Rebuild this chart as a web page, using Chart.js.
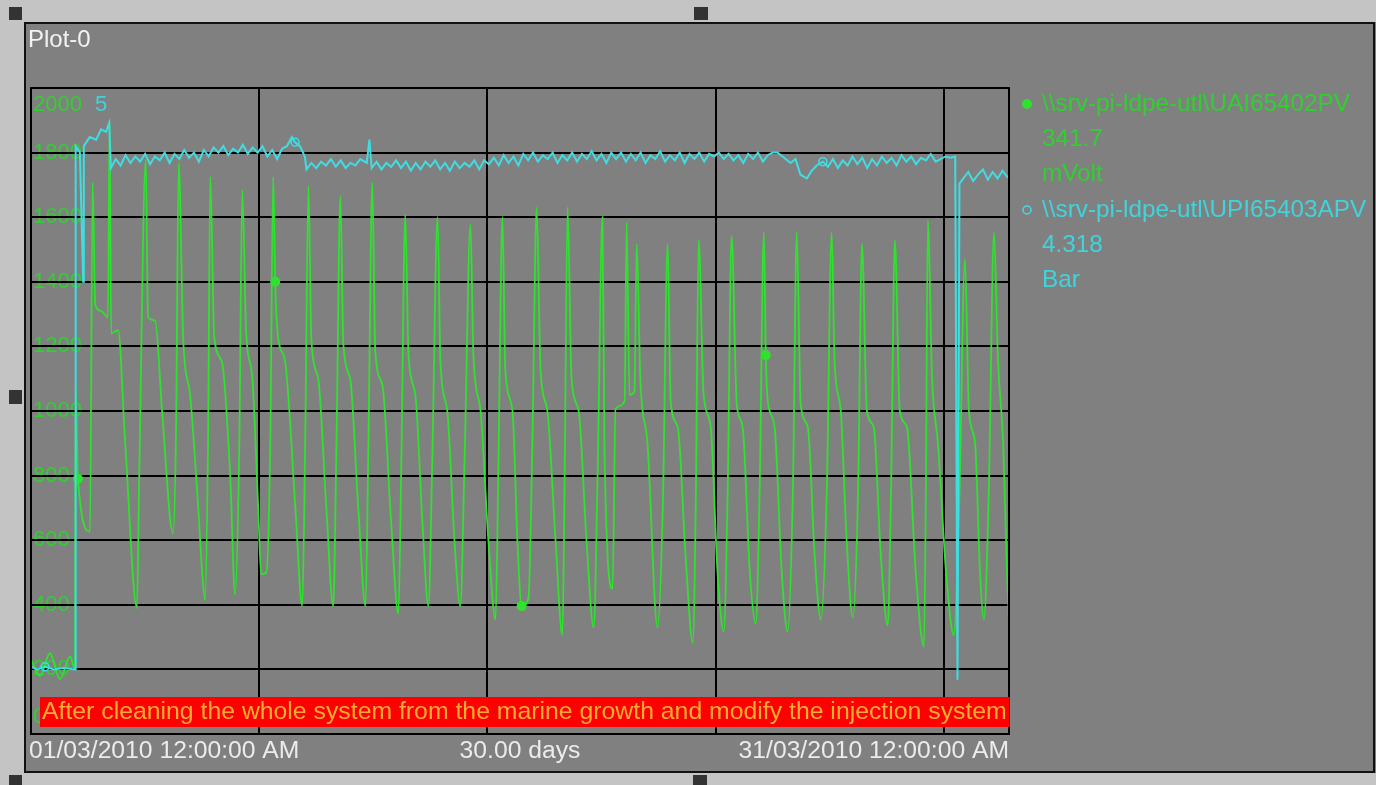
<!DOCTYPE html>
<html>
<head>
<meta charset="utf-8">
<script src="https://cdn.jsdelivr.net/npm/chart.js@4.4.1/dist/chart.umd.min.js"></script>
<style>
  html, body { margin: 0; padding: 0; background: #c4c4c4; }
  #wrap { width: 1376px; height: 785px; position: relative; }
</style>
</head>
<body>
<div id="wrap"><canvas id="plot" width="1376" height="785"></canvas></div>
<script>
// time in days after 01/03/2010 00:00
const greenDays = [0, 0.28, 0.58, 0.89, 1.20, 1.35, 1.37, 1.44, 1.81, 1.89,
  1.97, 2.15, 2.36, 2.41, 2.46, 2.67, 2.89, 3.25, 3.32, 3.52,
  3.59, 3.81, 4.02, 4.36, 4.45, 4.53, 4.67, 4.88, 5.13, 5.25,
  5.34, 5.43, 5.50, 5.62, 5.86, 6.11, 6.26, 6.39, 6.48, 6.60,
  6.79, 6.97, 7.06, 7.22, 7.34, 7.43, 7.49, 7.58, 7.80, 8.11,
  8.32, 8.41, 8.51, 8.60, 8.81, 9.06, 9.27, 9.37, 9.49, 9.58,
  9.79, 10.04, 10.26, 10.35, 10.47, 10.56, 10.78, 11.05, 11.27, 11.36,
  11.48, 11.58, 11.79, 12.01, 12.19, 12.31, 12.47, 12.56, 12.77, 12.99,
  13.17, 13.30, 13.48, 13.57, 13.79, 14.03, 14.25, 14.34, 14.46, 14.55,
  14.77, 14.92, 15.05, 15.26, 15.38, 15.51, 15.63, 15.84, 16.09, 16.30,
  16.37, 16.46, 16.58, 16.80, 17.04, 17.26, 17.38, 17.53, 17.59, 17.84,
  17.93, 18.21, 18.27, 18.36, 18.51, 18.58, 18.69, 18.91, 19.22, 19.38,
  19.53, 19.62, 19.84, 20.08, 20.30, 20.39, 20.48, 20.63, 20.85, 21.06,
  21.25, 21.37, 21.49, 21.65, 21.83, 22.05, 22.23, 22.35, 22.48, 22.54,
  22.60, 22.81, 23.03, 23.21, 23.37, 23.49, 23.61, 23.83, 24.04, 24.23,
  24.41, 24.56, 24.65, 24.84, 25.02, 25.21, 25.37, 25.49, 25.64, 25.85,
  26.07, 26.28, 26.38, 26.50, 26.65, 26.87, 27.14, 27.39, 27.45, 27.51,
  27.64, 27.82, 28.07, 28.31, 28.47, 28.65, 28.77, 28.96, 29.11, 29.23,
  29.38, 29.54, 29.66, 29.82, 29.94, 30];
const greenVals = [230, 180, 250, 170, 240, 200, 1080, 790, 627, 1707,
  1330, 1310, 1290, 1890, 1240, 1250, 900, 390, 800, 1779,
  1290, 1280, 1000, 620, 950, 1767, 1220, 1050, 700, 501,
  414, 900, 1725, 1230, 1150, 800, 431, 900, 1684, 1244,
  1100, 700, 495, 500, 900, 1725, 1400, 1227, 1150, 700,
  396, 900, 1696, 1220, 1100, 700, 396, 900, 1666, 1209,
  1100, 700, 396, 900, 1707, 1185, 1080, 650, 372, 850,
  1607, 1173, 1050, 650, 396, 850, 1601, 1150, 1000, 600,
  396, 850, 1577, 1173, 1000, 600, 354, 850, 1601, 1126,
  1000, 600, 396, 420, 900, 1630, 1126, 1000, 600, 306,
  800, 1630, 1102, 1000, 600, 330, 800, 1601, 888, 450,
  1007, 1030, 1583, 1050, 1060, 1517, 1100, 900, 330, 700,
  1517, 1031, 950, 550, 283, 700, 1529, 1054, 950, 500,
  318, 750, 1541, 1019, 950, 500, 342, 750, 1553, 1173,
  1031, 950, 500, 318, 750, 1553, 1019, 950, 550, 354,
  750, 1553, 1150, 1000, 600, 360, 750, 1517, 1000, 950,
  550, 336, 750, 1529, 1000, 950, 500, 271, 750, 1589,
  1102, 900, 500, 306, 700, 1470, 1000, 900, 500, 354,
  750, 1553, 1162, 900, 500, 342];

const cyanDays = [0, 0.2, 0.43, 0.7, 1.0, 1.35, 1.37, 1.5, 1.6, 1.62,
  1.8, 2.0, 2.15, 2.3, 2.4, 2.45, 2.6, 2.75, 2.9, 3.05,
  3.2, 3.35, 3.5, 3.65, 3.8, 3.95, 4.1, 4.25, 4.4, 4.55,
  4.7, 4.85, 5.0, 5.15, 5.3, 5.45, 5.6, 5.75, 5.9, 6.05,
  6.2, 6.35, 6.5, 6.65, 6.8, 6.95, 7.1, 7.25, 7.4, 7.55,
  7.7, 7.85, 8.0, 8.1, 8.25, 8.4, 8.45, 8.6, 8.75, 8.9,
  9.05, 9.2, 9.35, 9.5, 9.65, 9.8, 9.95, 10.1, 10.3, 10.38,
  10.45, 10.6, 10.75, 10.9, 11.05, 11.2, 11.35, 11.5, 11.65, 11.8,
  11.95, 12.1, 12.25, 12.4, 12.55, 12.7, 12.85, 13.0, 13.15, 13.3,
  13.45, 13.6, 13.75, 13.9, 14.05, 14.2, 14.35, 14.5, 14.65, 14.8,
  14.95, 15.1, 15.25, 15.4, 15.55, 15.7, 15.85, 16.0, 16.15, 16.3,
  16.45, 16.6, 16.75, 16.9, 17.05, 17.2, 17.35, 17.5, 17.65, 17.8,
  17.95, 18.1, 18.25, 18.4, 18.55, 18.7, 18.85, 19.0, 19.15, 19.3,
  19.45, 19.6, 19.75, 19.9, 20.05, 20.2, 20.35, 20.5, 20.65, 20.8,
  20.95, 21.1, 21.25, 21.4, 21.55, 21.7, 21.85, 22.0, 22.15, 22.3,
  22.45, 22.6, 22.75, 22.9, 23.1, 23.3, 23.45, 23.6, 23.8, 23.95,
  24.1, 24.29, 24.45, 24.6, 24.75, 24.9, 25.05, 25.2, 25.35, 25.5,
  25.65, 25.8, 25.95, 26.1, 26.25, 26.4, 26.55, 26.7, 26.85, 27.0,
  27.15, 27.3, 27.45, 27.6, 27.75, 27.9, 28.05, 28.2, 28.35, 28.42,
  28.48, 28.6, 28.75, 28.9, 29.05, 29.2, 29.35, 29.5, 29.65, 29.8,
  29.95, 30];
const cyanVals = [0.52, 0.5, 0.52, 0.5, 0.51, 0.5, 4.55, 4.5, 3.5, 4.55,
  4.62, 4.6, 4.68, 4.66, 4.73, 4.38, 4.45, 4.4, 4.48, 4.42,
  4.47, 4.43, 4.49, 4.41, 4.47, 4.44, 4.5, 4.42, 4.49, 4.45,
  4.52, 4.46, 4.5, 4.43, 4.52, 4.47, 4.54, 4.5, 4.55, 4.48,
  4.53, 4.5, 4.56, 4.49, 4.54, 4.5, 4.55, 4.47, 4.52, 4.45,
  4.53, 4.55, 4.62, 4.58, 4.55, 4.47, 4.37, 4.42, 4.38, 4.43,
  4.4, 4.45, 4.39, 4.44, 4.38, 4.42, 4.4, 4.45, 4.42, 4.6,
  4.38, 4.43, 4.37, 4.42, 4.39, 4.44, 4.38, 4.43, 4.36, 4.42,
  4.37, 4.43, 4.39, 4.44, 4.37, 4.42, 4.36, 4.43, 4.38, 4.42,
  4.39, 4.44, 4.37, 4.44, 4.41, 4.46, 4.4, 4.48, 4.42, 4.47,
  4.4, 4.49, 4.44, 4.5, 4.43, 4.48, 4.45, 4.5, 4.42, 4.48,
  4.44, 4.5, 4.43, 4.49, 4.45, 4.51, 4.44, 4.49, 4.42, 4.5,
  4.45, 4.5, 4.43, 4.49, 4.44, 4.5, 4.42, 4.48, 4.45, 4.51,
  4.43, 4.48, 4.44, 4.5, 4.42, 4.49, 4.45, 4.5, 4.43, 4.49,
  4.47, 4.5, 4.45, 4.49, 4.44, 4.48, 4.42, 4.49, 4.45, 4.5,
  4.43, 4.48, 4.5, 4.5, 4.46, 4.42, 4.45, 4.33, 4.3, 4.36,
  4.4, 4.43, 4.39, 4.45, 4.38, 4.44, 4.4, 4.47, 4.41, 4.46,
  4.38, 4.45, 4.4, 4.47, 4.42, 4.46, 4.4, 4.48, 4.43, 4.47,
  4.41, 4.46, 4.44, 4.49, 4.43, 4.45, 4.47, 4.46, 4.47, 0.42,
  4.26, 4.3, 4.35, 4.28, 4.33, 4.37, 4.29, 4.35, 4.3, 4.36,
  4.31, 4.32];

// points that carry the trend markers
const greenMarkDays = [1.44, 7.49, 15.05, 22.54];
const cyanMarkDays = [0.43, 8.1, 24.29];

const greenTicks = [0, 200, 400, 600, 800, 1000, 1200, 1400, 1600, 1800, 2000];
const cyanTicks = [0, 5];
const timeLabels = ['01/03/2010 12:00:00 AM', '30.00 days', '31/03/2010 12:00:00 AM'];
const legendLines = [
  ['\\\\srv-pi-ldpe-utl\\UAI65402PV', '341.7', 'mVolt'],
  ['\\\\srv-pi-ldpe-utl\\UPI65403APV', '4.318', 'Bar']
];
const note = 'After cleaning the whole system from the marine growth and modify the injection system';

const GREEN = '#2ee22e';
const CYAN = '#3fdde2';
const GREEN_TXT = '#2fd02f';
const CYAN_TXT = '#3fd4dc';
const FONT = '"Liberation Sans", Arial, sans-serif';

const frame = {
  id: 'frame',
  beforeDraw(chart) {
    const c = chart.ctx;
    const a = chart.chartArea;
    const y = chart.scales.y;
    c.save();
    c.fillStyle = '#c4c4c4';
    c.fillRect(0, 0, chart.width, chart.height);
    c.fillStyle = '#808080';
    c.fillRect(24, 22, 1352, 751);
    c.strokeStyle = '#111';
    c.lineWidth = 2;
    c.strokeRect(25, 23, 1349, 749);

    c.fillStyle = '#f2f2f2';
    c.font = '24px ' + FONT;
    c.textBaseline = 'middle';
    c.fillText('Plot-0', 28, 40);

    // y labels sit inside the plot, grid is drawn over them
    c.font = '22px ' + FONT;
    c.fillStyle = GREEN_TXT;
    greenTicks.forEach(v => {
      let py = y.getPixelForValue(v);
      if (v === greenTicks[greenTicks.length - 1]) py += 17;
      if (v === 0) py -= 17;
      c.fillText(String(v), a.left + 2, py);
    });
    c.fillStyle = CYAN_TXT;
    const w2000 = c.measureText('2000').width;
    c.fillText(String(cyanTicks[1]), a.left + 2 + w2000 + 13, y.getPixelForValue(2000) + 17);
    c.restore();
  },
  afterDatasetsDraw(chart) {
    const c = chart.ctx;
    const a = chart.chartArea;
    c.save();
    c.strokeStyle = '#000';
    c.lineWidth = 2;
    c.strokeRect(a.left, a.top, a.right - a.left, a.bottom - a.top);
    c.restore();
  },
  afterDraw(chart) {
    const c = chart.ctx;
    const a = chart.chartArea;
    c.save();
    c.textBaseline = 'middle';

    // annotation banner
    c.font = '24.8px ' + FONT;
    const tw = c.measureText(note).width;
    c.fillStyle = '#ff0000';
    c.fillRect(40, 697, tw + 5, 30);
    c.fillStyle = '#ffad30';
    c.fillText(note, 42, 712);

    // time axis text
    c.font = '24.7px ' + FONT;
    c.fillStyle = '#ececec';
    c.textAlign = 'left';
    c.fillText(timeLabels[0], a.left - 2, 751);
    c.textAlign = 'center';
    c.fillText(timeLabels[1], (a.left + a.right) / 2, 751);
    c.textAlign = 'right';
    c.fillText(timeLabels[2], a.right, 751);

    // legend
    c.textAlign = 'left';
    c.font = '24.3px ' + FONT;
    const rows = [[GREEN_TXT, 104], [CYAN_TXT, 210]];
    legendLines.forEach((lines, i) => {
      const [col, top] = rows[i];
      c.fillStyle = col;
      lines.forEach((t, j) => c.fillText(t, 1042, top + j * 35));
    });
    c.fillStyle = GREEN;
    c.beginPath(); c.arc(1027, 104, 5, 0, Math.PI * 2); c.fill();
    c.strokeStyle = CYAN;
    c.lineWidth = 1.5;
    c.beginPath(); c.arc(1027, 210, 4, 0, Math.PI * 2); c.stroke();

    // selection handles
    c.fillStyle = '#333';
    [[9, 7, 13, 13], [694, 7, 14, 13], [9, 390, 13, 14], [9, 775, 13, 10], [693, 775, 14, 10]]
      .forEach(r => c.fillRect(r[0], r[1], r[2], r[3]));
    c.restore();
  }
};

const ctx = document.getElementById('plot').getContext('2d');
new Chart(ctx, {
  type: 'line',
  data: {
    datasets: [
      {
        label: legendLines[1][0],
        data: cyanDays.map((d, i) => ({ x: d, y: cyanVals[i] })),
        yAxisID: 'y1',
        borderColor: CYAN,
        borderWidth: 2,
        tension: 0,
        order: 0,
        pointRadius: c => cyanMarkDays.includes(cyanDays[c.dataIndex]) ? 4 : 0,
        pointBackgroundColor: 'rgba(0,0,0,0)',
        pointBorderColor: CYAN,
        pointBorderWidth: 1.5
      },
      {
        label: legendLines[0][0],
        data: greenDays.map((d, i) => ({ x: d, y: greenVals[i] })),
        yAxisID: 'y',
        borderColor: GREEN,
        borderWidth: 1.8,
        cubicInterpolationMode: 'monotone',
        order: 1,
        pointRadius: c => greenMarkDays.includes(greenDays[c.dataIndex]) ? 5 : 0,
        pointBackgroundColor: GREEN,
        pointBorderColor: GREEN,
        pointBorderWidth: 0
      }
    ]
  },
  options: {
    responsive: false,
    animation: false,
    devicePixelRatio: 1,
    layout: { padding: { left: 31, top: 88, right: 367, bottom: 51 } },
    plugins: { legend: { display: false }, tooltip: { enabled: false } },
    scales: {
      x: {
        type: 'linear', min: 0, max: 30,
        ticks: { display: false, stepSize: 7 },
        grid: { color: '#000', lineWidth: 2, drawTicks: false },
        border: { display: false }
      },
      y: {
        min: 0, max: 2000,
        ticks: { display: false, stepSize: 200 },
        grid: { color: '#000', lineWidth: 2, drawTicks: false },
        border: { display: false }
      },
      y1: { display: false, min: cyanTicks[0], max: cyanTicks[1] }
    }
  },
  plugins: [frame]
});
</script>
</body>
</html>
